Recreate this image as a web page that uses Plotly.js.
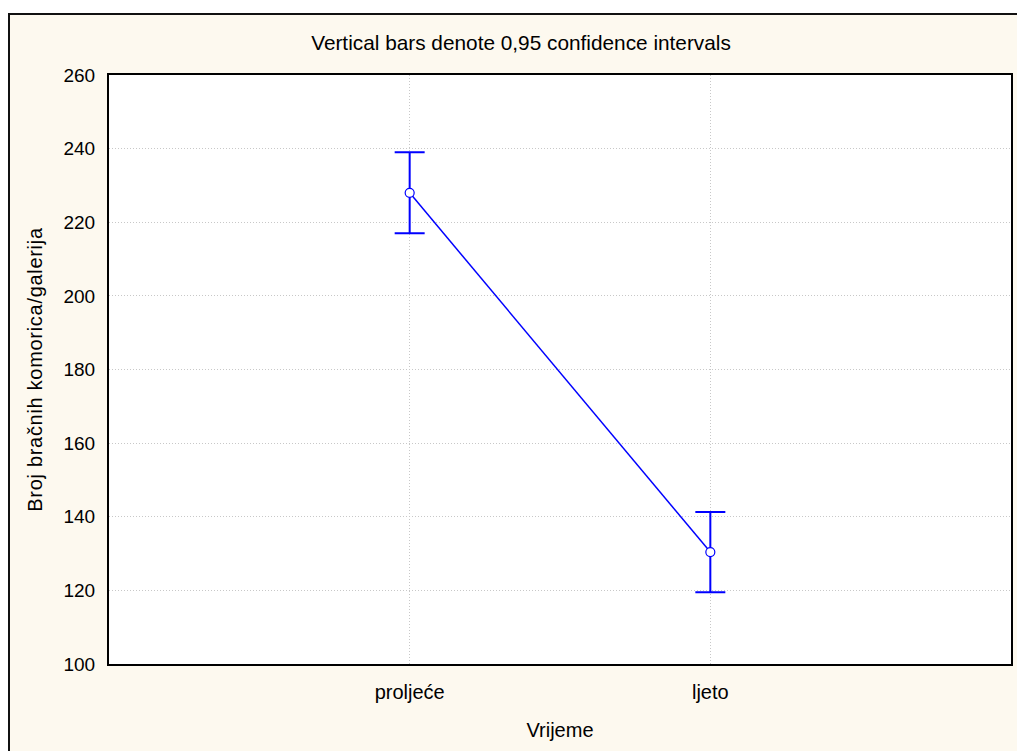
<!DOCTYPE html>
<html>
<head>
<meta charset="utf-8">
<script src="https://cdn.plot.ly/plotly-3.0.1.min.js"></script>
<style>
  html, body { margin:0; padding:0; background:#ffffff; }
  #frame { position:absolute; left:8px; top:13px; width:1100px; height:800px; background:#fdf9ef; border:2px solid #111; box-sizing:border-box; }
  #chart { position:absolute; left:0; top:0; width:1017px; height:751px; }
  #chart .ytitle { letter-spacing: 0.7px; }
</style>
</head>
<body>
<div id="frame"></div>
<div id="chart"></div>
<script>
const categories = ["proljeće", "ljeto"];
const means = [228.0, 130.4];
const ciHalf = [11.0, 10.9];
const yTicks = [100, 120, 140, 160, 180, 200, 220, 240, 260];

const trace = {
  x: categories,
  y: means,
  type: 'scatter',
  mode: 'lines+markers',
  line: { color: '#0000ff', width: 1.5 },
  marker: { symbol: 'circle', size: 9, color: '#ffffff', line: { color: '#0000ff', width: 1.2 } },
  error_y: { type: 'data', array: ciHalf, visible: true, color: '#0000ff', thickness: 2, width: 15 },
  hoverinfo: 'skip'
};

const fam = 'Liberation Sans, Arial, sans-serif';

const layout = {
  width: 1017, height: 751,
  margin: { l: 109, r: 6, t: 75, b: 87 },
  paper_bgcolor: 'rgba(0,0,0,0)',
  plot_bgcolor: '#ffffff',
  showlegend: false,
  font: { family: fam, color: '#000' },
  title: { text: 'Vertical bars denote 0,95 confidence intervals', x: 521/1017, xanchor: 'center', y: 1 - 43/751, yanchor: 'middle', font: { family: fam, size: 20.8, color: '#000' } },
  xaxis: {
    type: 'category',
    range: [-1, 2],
    showline: true, mirror: true, linecolor: '#000', linewidth: 2,
    showgrid: true, gridcolor: '#c8c8c8', griddash: '1px,2px', gridwidth: 1,
    ticks: 'outside', ticklen: 9, tickcolor: 'rgba(0,0,0,0)',
    tickfont: { family: fam, size: 20, color: '#000' },
    title: { text: 'Vrijeme', font: { family: fam, size: 20, color: '#000' }, standoff: 21 },
    zeroline: false, fixedrange: true
  },
  yaxis: {
    range: [100, 260],
    tickvals: yTicks,
    showline: true, mirror: true, linecolor: '#000', linewidth: 2,
    showgrid: true, gridcolor: '#c8c8c8', griddash: '1px,2px', gridwidth: 1,
    ticks: 'outside', ticklen: 8, tickcolor: 'rgba(0,0,0,0)',
    tickfont: { family: fam, size: 19, color: '#000' },
    title: { text: 'Broj bračnih komorica/galerija', font: { family: fam, size: 20, color: '#000' }, standoff: 15 },
    zeroline: false, fixedrange: true
  }
};

Plotly.newPlot('chart', [trace], layout, { displayModeBar: false, staticPlot: true });
</script>
</body>
</html>
